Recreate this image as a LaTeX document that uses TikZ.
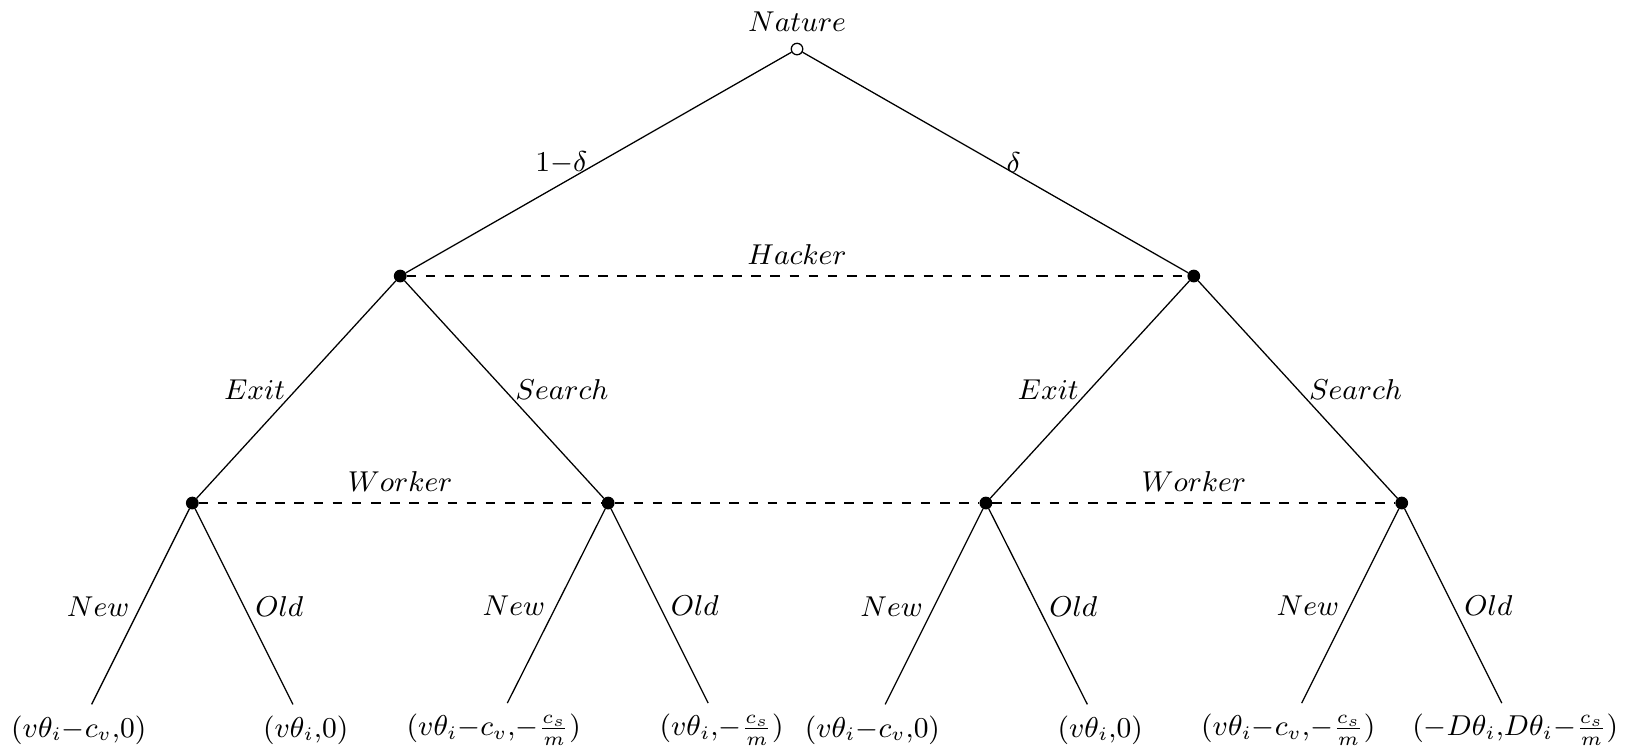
\documentclass[tikz,border=0pt]{standalone}
\usepackage{amsmath,amssymb}
\usepackage{tikz}
\usetikzlibrary{positioning,calc}
\tikzset{
  chance/.style={circle,draw=black,fill=white,inner sep=0pt,minimum size=3.6pt},
  dec/.style={circle,draw=black,fill=black,inner sep=0pt,minimum size=3.6pt},
  pay/.style={inner sep=3.33pt},
  info/.style={draw=black,dashed},
}

\begin{document}
\begin{tikzpicture}[scale=1,font=\small]
\useasboundingbox (-8.778,0.540) rectangle (9.141,-7.742);
\node[chance,label=above:$Nature$] (root) at (0,0) {};
\node[dec] (h1) at (-4.37,-2.5) {};
\node[dec] (h2) at (4.37,-2.5) {};
\node[dec] (w1) at (-6.66,-5) {};
\node[dec] (w2) at (-2.08,-5) {};
\node[dec] (w3) at (2.08,-5) {};
\node[dec] (w4) at (6.66,-5) {};
\node[pay] (t1) at (-7.91,-7.5) {$(v\theta_i{-}c_v{,}0)$};
\node[pay] (t2) at (-5.41,-7.5) {$(v\theta_i{,}0)$};
\node[pay] (t3) at (-3.34,-7.5) {$(v\theta_i{-}c_v{,}{-}\frac{c_s}{m})$};
\node[pay] (t4) at (-0.83,-7.5) {$(v\theta_i{,}{-}\frac{c_s}{m})$};
\node[pay] (t5) at (0.83,-7.5) {$(v\theta_i{-}c_v{,}0)$};
\node[pay] (t6) at (3.34,-7.5) {$(v\theta_i{,}0)$};
\node[pay] (t7) at (5.41,-7.5) {$(v\theta_i{-}c_v{,}{-}\frac{c_s}{m})$};
\node[pay] (t8) at (7.91,-7.5) {$({-}D\theta_i{,}D\theta_i{-}\frac{c_s}{m})$};
% nature
\draw (root) -- node[left] {$1{-}\delta$} (h1);
\draw (root) -- node[right] {$\delta$} (h2);
% hacker
\draw (h1) -- node[left] {$Exit$} (w1);
\draw (h1) -- node[right] {$Search$} (w2);
\draw (h2) -- node[left] {$Exit$} (w3);
\draw (h2) -- node[right] {$Search$} (w4);
% worker
\draw (w1) -- node[left] {$New$} (t1);
\draw (w1) -- node[right] {$Old$} (t2);
\draw (w2) -- node[left] {$New$} (t3);
\draw (w2) -- node[right] {$Old$} (t4);
\draw (w3) -- node[left] {$New$} (t5);
\draw (w3) -- node[right] {$Old$} (t6);
\draw (w4) -- node[left] {$New$} (t7);
\draw (w4) -- node[right] {$Old$} (t8);
% information sets
\draw[info] (h1) -- node[above] {$Hacker$} (h2);
\draw[info] (w1) -- node[above] {$Worker$} (w2);
\draw[info] (w2) -- (w3);
\draw[info] (w3) -- node[above] {$Worker$} (w4);
\end{tikzpicture}
\end{document}
